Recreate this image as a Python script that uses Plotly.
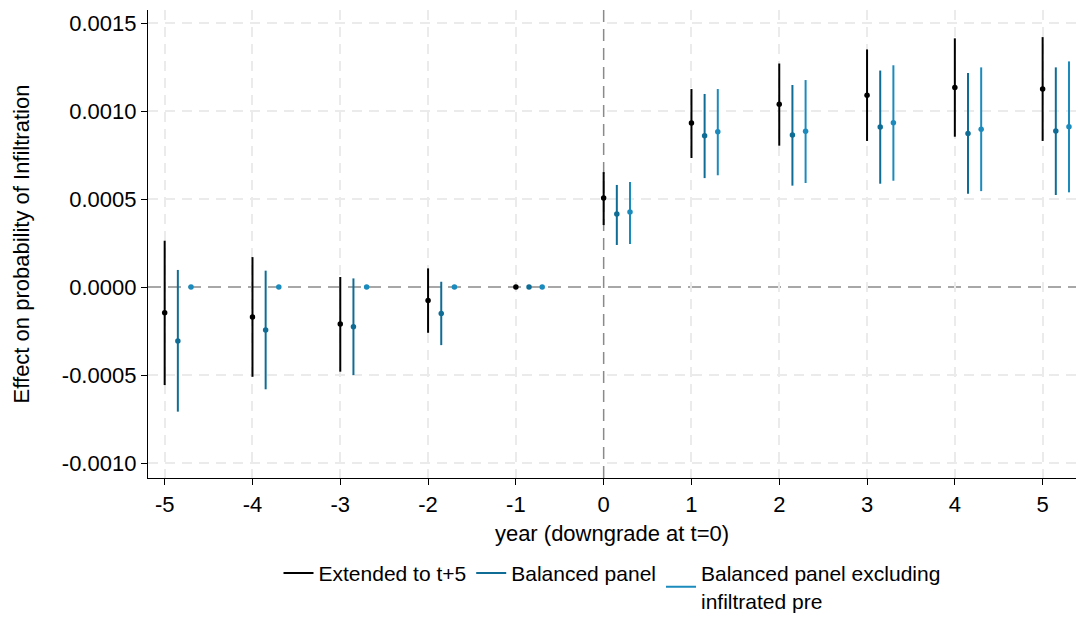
import plotly.graph_objects as go

years = [-5, -4, -3, -2, -1, 0, 1, 2, 3, 4, 5]
y_ticks = [-0.001, -0.0005, 0, 0.0005, 0.001, 0.0015]
y_labels = ["-0.0010", "-0.0005", "0.0000", "0.0005", "0.0010", "0.0015"]

ext_est = [-0.000146, -0.00017, -0.00021, -0.000076, 0.0, 0.000506, 0.000932, 0.001038, 0.00109, 0.001133, 0.001125]
ext_hi = [0.000263, 0.00017, 0.000057, 0.000106, 0.0, 0.000653, 0.001125, 0.00127, 0.00135, 0.001413, 0.00142]
ext_lo = [-0.000557, -0.00051, -0.000481, -0.00026, 0.0, 0.000352, 0.000733, 0.000803, 0.00083, 0.000854, 0.00083]

bal_est = [-0.000307, -0.000244, -0.000225, -0.00015, 0.0, 0.000415, 0.00086, 0.000864, 0.000909, 0.000873, 0.000886]
bal_hi = [0.000097, 0.000093, 0.000049, 0.00003, 0.0, 0.00058, 0.001097, 0.001148, 0.00123, 0.001216, 0.001248]
bal_lo = [-0.000708, -0.000581, -0.0005, -0.00033, 0.0, 0.000239, 0.000619, 0.000576, 0.000587, 0.00053, 0.000523]

exc_est = [0.0, 0.0, 0.0, 0.0, 0.0, 0.000426, 0.000882, 0.000885, 0.000934, 0.000896, 0.000911]
exc_hi = [0.0, 0.0, 0.0, 0.0, 0.0, 0.000597, 0.001125, 0.001176, 0.00126, 0.001248, 0.001282]
exc_lo = [0.0, 0.0, 0.0, 0.0, 0.0, 0.000244, 0.000635, 0.000591, 0.000604, 0.000545, 0.000538]

series = [
    ("Extended to t+5", ext_est, ext_hi, ext_lo, 0.0, "#000000"),
    ("Balanced panel", bal_est, bal_hi, bal_lo, 0.15, "#0f6d95"),
    ("Balanced panel excluding<br>infiltrated pre", exc_est, exc_hi, exc_lo, 0.3, "#1b8bbd"),
]

XR = [-5.19, 5.38]
YR = [-0.001085, 0.001574]

fig = go.Figure()
# dummy trace on the overlay axes that carry the grid (grid skips the zero lines)
fig.add_trace(go.Scatter(x=[None], y=[None], xaxis="x2", yaxis="y2",
                         showlegend=False, hoverinfo="skip"))
for name, est, hi, lo, off, col in series:
    fig.add_trace(go.Scatter(
        x=[y + off for y in years], y=est, mode="markers",
        marker=dict(color=col, size=5.5),
        error_y=dict(type="data", symmetric=False,
                     array=[h - e for h, e in zip(hi, est)],
                     arrayminus=[e - l for e, l in zip(est, lo)],
                     color=col, thickness=2, width=0),
        showlegend=False, hoverinfo="skip"))
for name, est, hi, lo, off, col in series:
    fig.add_trace(go.Scatter(x=[None], y=[None], mode="lines", name=name,
                             line=dict(color=col, width=2)))

fig.add_hline(y=0, line=dict(color="#8a8a8a", width=1.5, dash="13px,7px"), layer="below")
fig.add_vline(x=0, line=dict(color="#8a8a8a", width=1.5, dash="12px,7px"), layer="below")

grid = dict(showgrid=True, gridcolor="#ebebeb", griddash="10px,7px", gridwidth=1.5,
            showticklabels=False, ticks="", showline=False, zeroline=False)

fig.update_layout(
    width=1076, height=618,
    paper_bgcolor="white", plot_bgcolor="white",
    margin=dict(l=148, r=0, t=10, b=140, autoexpand=False),
    font=dict(family="Liberation Sans, Arial, sans-serif", size=22, color="#000"),
    legend=dict(orientation="h", x=0.5, xanchor="center", y=-0.16, yanchor="top",
                font=dict(size=21), itemwidth=30, tracegroupgap=0, valign="middle"),
    xaxis=dict(range=XR, tickmode="array", tickvals=years,
               ticktext=[str(y) for y in years],
               showline=True, linecolor="black", linewidth=1.3,
               ticks="outside", ticklen=6, tickcolor="black",
               showgrid=False, zeroline=False,
               title=dict(text="year (downgrade at t=0)", font=dict(size=22), standoff=10)),
    yaxis=dict(range=YR, tickmode="array", tickvals=y_ticks, ticktext=y_labels,
               showline=True, linecolor="black", linewidth=1.3,
               ticks="outside", ticklen=6, tickcolor="black",
               showgrid=False, zeroline=False,
               title=dict(text="Effect on probability of Infiltration", font=dict(size=22), standoff=26)),
    xaxis2=dict(overlaying="x", anchor="y2", range=XR, tickmode="array",
                tickvals=[v for v in years if v != 0], **grid),
    yaxis2=dict(overlaying="y", anchor="x2", range=YR, tickmode="array",
                tickvals=[v for v in y_ticks if v != 0], **grid),
)

fig.write_html("out.html")
